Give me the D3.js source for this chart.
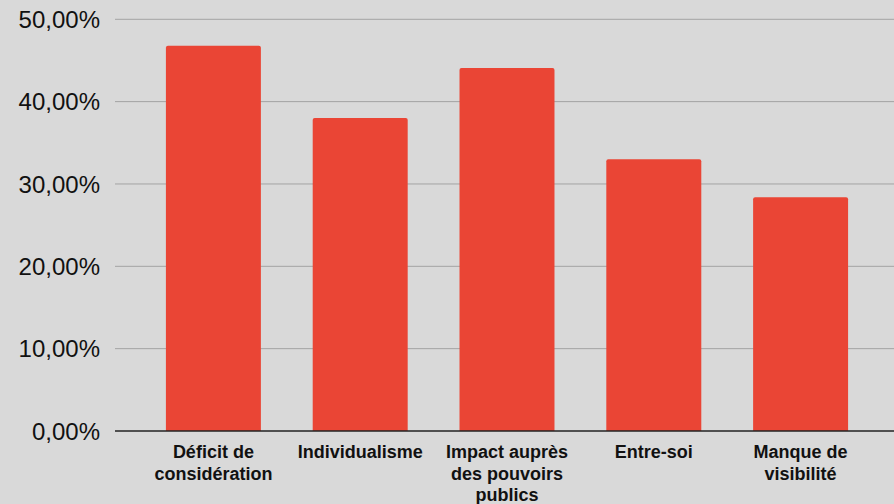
<!DOCTYPE html>
<html>
<head>
<meta charset="utf-8">
<script src="https://cdn.jsdelivr.net/npm/d3@7"></script>
<style>
html,body{margin:0;padding:0;background:#d9d9d9;}
svg{display:block;}
</style>
</head>
<body>
<svg id="chart" width="894" height="504"></svg>
<script>
const categories = ["Déficit de\nconsidération", "Individualisme", "Impact auprès\ndes pouvoirs\npublics", "Entre-soi", "Manque de\nvisibilité"];
const values = [46.8, 38.0, 44.1, 33.0, 28.4];
const yTicks = [0, 10, 20, 30, 40, 50];

const W = 894, H = 504;
const svg = d3.select("#chart");
svg.append("rect").attr("width", W).attr("height", H).attr("fill", "#d9d9d9");

const y = d3.scaleLinear().domain([0, 50]).range([431, 19.3]);
const x = d3.scaleBand().domain(categories).range([140, 874]).paddingInner(0.353).paddingOuter(0.1765);

const fmt = v => d3.format(".2f")(v).replace(".", ",") + "%";

// gridlines
svg.append("g").selectAll("line").data(yTicks.filter(t => t > 0)).join("line")
  .attr("x1", 115).attr("x2", W)
  .attr("y1", d => y(d)).attr("y2", d => y(d))
  .attr("stroke", "#a3a3a3").attr("stroke-width", 1);

// tick labels
svg.append("g").selectAll("text").data(yTicks).join("text")
  .attr("x", 100).attr("y", d => y(d) + 8.8)
  .attr("text-anchor", "end")
  .attr("font-family", "Liberation Sans, Arial, sans-serif")
  .attr("font-size", 24)
  .attr("fill", "#111")
  .text(fmt);

// bars with rounded top corners
const r = 2;
svg.append("g").selectAll("path").data(values).join("path")
  .attr("d", (d, i) => {
    const x0 = x(categories[i]), w = x.bandwidth(), y0 = y(d), y1 = y(0);
    return `M${x0},${y1}V${y0 + r}Q${x0},${y0} ${x0 + r},${y0}H${x0 + w - r}Q${x0 + w},${y0} ${x0 + w},${y0 + r}V${y1}Z`;
  })
  .attr("fill", "#ea4535");

// baseline
svg.append("line").attr("x1", 115).attr("x2", W).attr("y1", y(0)).attr("y2", y(0))
  .attr("stroke", "#222").attr("stroke-width", 1.5);

// category labels
const lab = svg.append("g").selectAll("text").data(categories).join("text")
  .attr("x", d => x(d) + x.bandwidth() / 2)
  .attr("y", 458)
  .attr("text-anchor", "middle")
  .attr("font-family", "Liberation Sans, Arial, sans-serif")
  .attr("font-weight", "bold")
  .attr("font-size", 18)
  .attr("fill", "#111");
lab.each(function(d) {
  const t = d3.select(this);
  d.split("\n").forEach((line, k) => {
    t.append("tspan").attr("x", x(d) + x.bandwidth() / 2).attr("dy", k === 0 ? 0 : 21.6).text(line);
  });
});
</script>
</body>
</html>
